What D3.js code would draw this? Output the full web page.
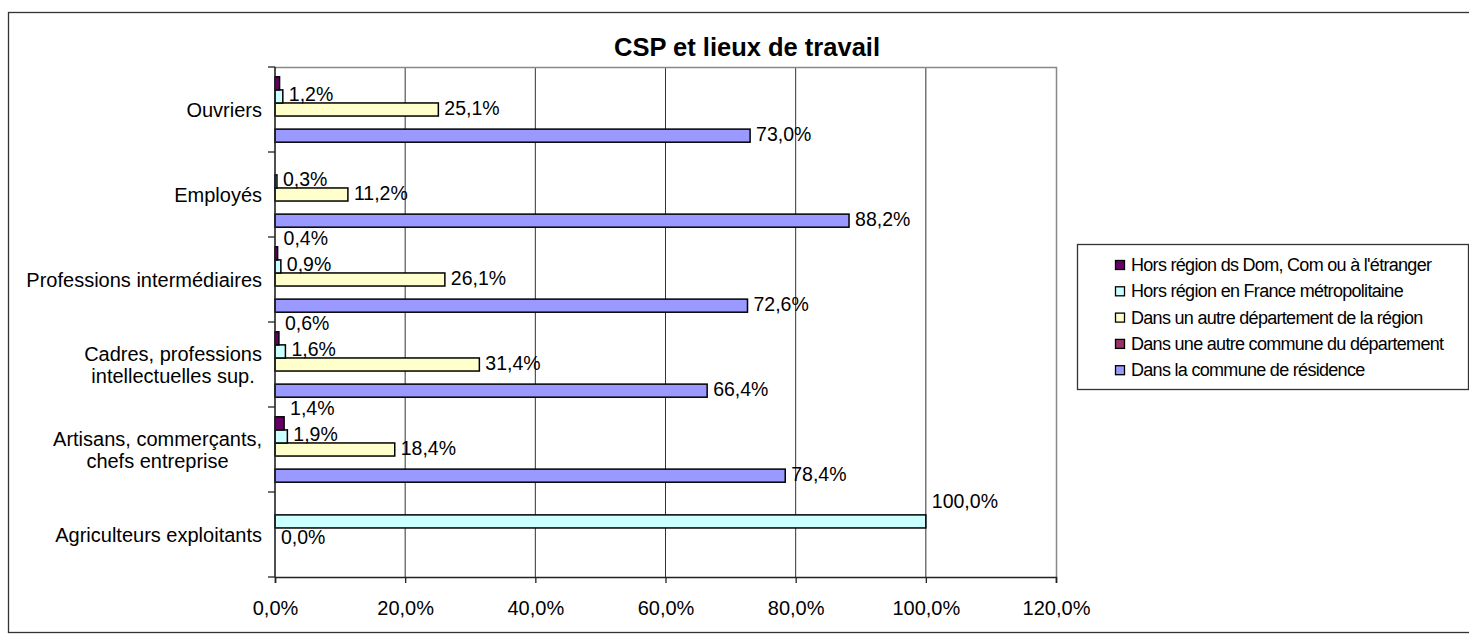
<!DOCTYPE html>
<html><head><meta charset="utf-8">
<script src="https://cdn.jsdelivr.net/npm/d3@7"></script>
<style>body{margin:0;background:#fff;} svg{display:block;font-family:"Liberation Sans",Arial,sans-serif;}</style>
</head><body><svg id="c" width="1469" height="643"></svg>
<script>
// ---------- data ----------
const chartTitle = "CSP et lieux de travail";
const categories = ["Ouvriers","Employés","Professions intermédiaires","Cadres, professions intellectuelles sup.","Artisans, commerçants, chefs entreprise","Agriculteurs exploitants"];
const categoryLines = [["Ouvriers"],["Employés"],["Professions intermédiaires"],["Cadres, professions","intellectuelles sup."],["Artisans, commerçants,","chefs entreprise"],["Agriculteurs exploitants"]];
const seriesNames = ["Dans la commune de résidence","Dans une autre commune du département","Dans un autre département de la région","Hors région en France métropolitaine","Hors région ds Dom, Com ou à l'étranger"];
const communeResidence = [73.0, 88.2, 72.6, 66.4, 78.4, null];
const autreCommune     = [null, null, null, null, null, null];
const autreDepartement = [25.1, 11.2, 26.1, 31.4, 18.4, 0.0];
const horsRegionFrance = [1.2, 0.3, 0.9, 1.6, 1.9, 100.0];
const horsRegionDom    = [0.7, null, 0.4, 0.6, 1.4, null];
const horsRegionDomLabelShown = [false, false, true, true, true, false];
const xTickValues = [0, 20, 40, 60, 80, 100, 120];

// ---------- style / layout ----------
const seriesValues = [communeResidence, autreCommune, autreDepartement, horsRegionFrance, horsRegionDom];
const seriesColors = ["#9999FF","#993366","#FFFFCC","#CCFFFF","#660066"];
// label nudges in bar-slot units (series index -> category index -> offset)
const labelNudge = {4: {2:-1, 3:-1, 4:-1}, 3: {5:-1.4}, 2: {5:0.35}};

const svg = d3.select("#c");
const plot = {left: 275, right: 1056, top: 67, bottom: 577};
const fmt = v => v.toFixed(1).replace(".", ",") + "%";

// outer frame
svg.append("rect").attr("x", 8.5).attr("y", 12.5).attr("width", 1475).attr("height", 620)
  .attr("fill", "#fff").attr("stroke", "#333").attr("stroke-width", 1.3);

const x = d3.scaleLinear().domain([0, 120]).range([plot.left, plot.right]);
const y0 = d3.scaleBand().domain(categories).range([plot.top, plot.bottom]).padding(0);
const gapRatio = 1.5;
const bw0 = y0.bandwidth();
const barH = bw0 / (seriesNames.length + gapRatio);
const topDown = [4, 3, 2, 1, 0];
const y1 = d3.scaleBand().domain(topDown).range([barH * gapRatio / 2, bw0 - barH * gapRatio / 2]).padding(0);

// gridlines
svg.append("g").selectAll("line").data(xTickValues.filter(d => d > 0 && d < 120)).join("line")
  .attr("x1", d => x(d)).attr("x2", d => x(d)).attr("y1", plot.top).attr("y2", plot.bottom)
  .attr("stroke", "#333").attr("stroke-width", 1);
// plot border top/right
svg.append("path").attr("d", `M${plot.left},${plot.top + 0.5}H${plot.right + 0.5}V${plot.bottom}`)
  .attr("fill", "none").attr("stroke", "#888").attr("stroke-width", 1.5);

// bars
seriesValues.forEach((vals, s) => {
  const g = svg.append("g");
  vals.forEach((v, c) => {
    if (v === null) return;
    g.append("rect")
      .attr("x", x(0)).attr("y", y0(categories[c]) + y1(s))
      .attr("width", Math.max(0, x(v) - x(0))).attr("height", y1.bandwidth())
      .attr("fill", seriesColors[s]).attr("stroke", "#000").attr("stroke-width", 1.5);
  });
});

// data labels
seriesValues.forEach((vals, s) => {
  vals.forEach((v, c) => {
    if (v === null) return;
    if (s === 4 && !horsRegionDomLabelShown[c]) return;
    const nud = (labelNudge[s] && labelNudge[s][c]) || 0;
    svg.append("text")
      .attr("x", x(v) + 6)
      .attr("y", y0(categories[c]) + y1(s) + y1.bandwidth() / 2 - 2 + nud * y1.bandwidth())
      .attr("dominant-baseline", "central")
      .attr("font-size", 19.5).attr("fill", "#000")
      .text(fmt(v));
  });
});

// x axis
const xAxis = d3.axisBottom(x).tickValues(xTickValues).tickSize(6).tickPadding(18)
  .tickFormat(d => fmt(d));
const gx = svg.append("g").attr("transform", `translate(0,${plot.bottom})`).call(xAxis);
gx.select(".domain").attr("stroke", "#222").attr("stroke-width", 1.6);
gx.selectAll(".tick line").attr("stroke", "#222").attr("stroke-width", 1.3);
gx.selectAll(".tick text").attr("font-size", 20).attr("font-family", "Liberation Sans, Arial, sans-serif").attr("fill", "#000");

// y axis line + ticks at category boundaries
const gy = svg.append("g");
gy.append("line").attr("x1", plot.left).attr("x2", plot.left).attr("y1", plot.top).attr("y2", plot.bottom)
  .attr("stroke", "#222").attr("stroke-width", 1.6);
const bounds = categories.map(c => y0(c)).concat([plot.bottom]);
gy.selectAll("line.t").data(bounds).join("line").attr("class", "t")
  .attr("x1", plot.left - 7).attr("x2", plot.left).attr("y1", d => d).attr("y2", d => d)
  .attr("stroke", "#222").attr("stroke-width", 1.3);

// category labels
const labelRight = 262, lineH = 22;
categoryLines.forEach((lines, c) => {
  const cy = y0(categories[c]) + bw0 / 2;
  const g = svg.append("g");
  const texts = lines.map((ln, i) => g.append("text")
    .attr("y", cy + (i - (lines.length - 1) / 2) * lineH)
    .attr("dominant-baseline", "central").attr("font-size", 20).attr("fill", "#000").text(ln));
  const widths = texts.map(t => t.node().getComputedTextLength());
  const maxW = Math.max(...widths);
  const center = labelRight - maxW / 2;
  texts.forEach(t => t.attr("x", center).attr("text-anchor", "middle"));
});

// title
svg.append("text").attr("x", 747).attr("y", 56).attr("text-anchor", "middle")
  .attr("font-size", 25.5).attr("font-weight", "bold").attr("fill", "#000").text(chartTitle);

// legend
const lg = svg.append("g");
lg.append("rect").attr("x", 1077.5).attr("y", 244.5).attr("width", 391).attr("height", 145)
  .attr("fill", "#fff").attr("stroke", "#333").attr("stroke-width", 1.3);
topDown.forEach((s, i) => {
  const cy = 265 + i * 26.3;
  lg.append("rect").attr("x", 1115.5).attr("y", cy - 4.5).attr("width", 9).attr("height", 9)
    .attr("fill", seriesColors[s]).attr("stroke", "#000").attr("stroke-width", 1.3);
  lg.append("text").attr("x", 1131).attr("y", cy).attr("dominant-baseline", "central")
    .attr("font-size", 18).attr("letter-spacing", -0.7).attr("fill", "#000").text(seriesNames[s]);
});
</script></body></html>
